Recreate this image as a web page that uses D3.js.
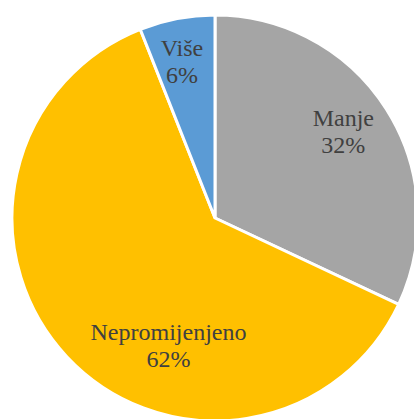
<!DOCTYPE html>
<html>
<head>
<meta charset="utf-8">
<script src="https://cdn.jsdelivr.net/npm/d3@7"></script>
<style>
  html, body { margin: 0; padding: 0; background: #fff; }
  svg { display: block; }
  .label { font-family: "Liberation Serif", "Times New Roman", serif; font-size: 24px; fill: #404040; }
</style>
</head>
<body>
<svg class="chart"></svg>
<script>
// data
const categories = ["Manje", "Nepromijenjeno", "Više"];
const values = [32, 62, 6];
const colors = ["#A5A5A5", "#FFC000", "#5B9BD5"];

const width = 414, height = 419;
const cx = 215, cy = 218, radius = 203;

// label placement, relative to centre (Excel "best fit" moves some of them)
const labelRadius = 152;
const labelShift = { "Nepromijenjeno": [-46.5, 133], "Više": [-33, -151] };

const svg = d3.select(".chart")
    .attr("width", width)
    .attr("height", height);

const g = svg.append("g")
    .attr("transform", "translate(" + cx + "," + cy + ")");

const pie = d3.pie().sort(null).value(function (d) { return d.value; });
const arcs = pie(categories.map(function (c, i) { return { name: c, value: values[i], color: colors[i] }; }));

const arc = d3.arc().innerRadius(0).outerRadius(radius);
const labelArc = d3.arc().innerRadius(labelRadius).outerRadius(labelRadius);

g.selectAll("path.slice")
    .data(arcs)
    .enter()
    .append("path")
    .attr("class", "slice")
    .attr("d", arc)
    .style("fill", function (d) { return d.data.color; })
    .style("stroke", "#fff")
    .style("stroke-width", 3)
    .style("stroke-linejoin", "miter");

//labels
const total = d3.sum(values);
const label = g.selectAll("text.label")
    .data(arcs)
    .enter()
    .append("text")
    .attr("class", "label")
    .attr("transform", function (d) {
        const p = labelShift[d.data.name] || labelArc.centroid(d);
        return "translate(" + p[0] + "," + p[1] + ")";
    })
    .attr("text-anchor", "middle");
label.append("tspan")
    .attr("x", 0)
    .attr("y", -11)
    .text(function (d) { return d.data.name; });
label.append("tspan")
    .attr("x", 0)
    .attr("y", 16)
    .text(function (d) { return Math.round(d.data.value / total * 100) + "%"; });
</script>
</body>
</html>
